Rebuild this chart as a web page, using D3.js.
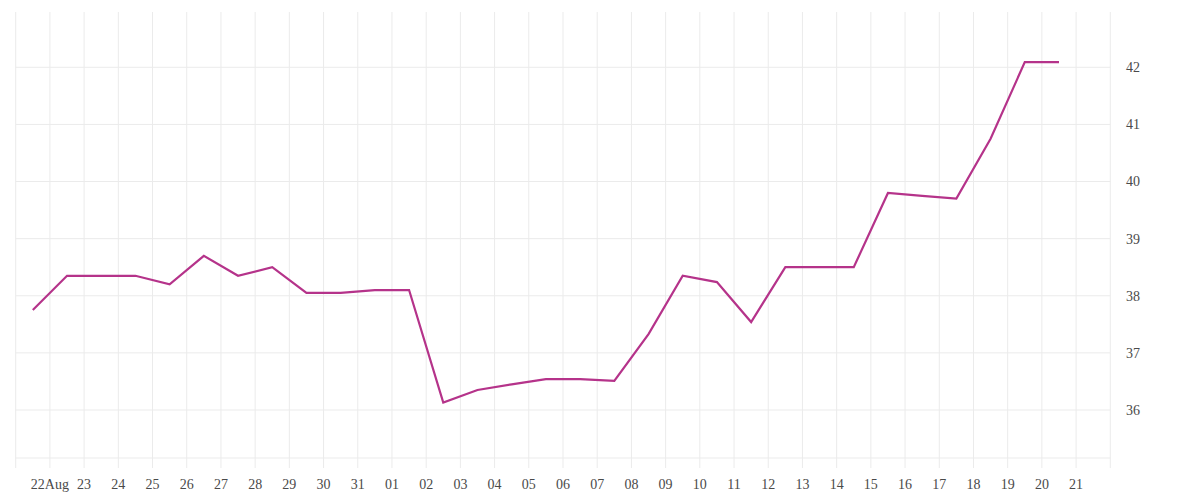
<!DOCTYPE html>
<meta charset="utf-8">
<style>
  body { margin: 0; background: #fff; }
  text { font-family: "Liberation Serif", serif; font-size: 14px; fill: #4a4a4a; }
</style>
<script src="https://d3js.org/d3.v7.min.js"></script>

<svg id="chart" width="1200" height="500"></svg>

<script>
  // Daily readings, one per day starting 21 Aug (plotted at midday)
  var startDay = "2023-08-21";
  var values = [
    37.75, 38.35, 38.35, 38.35, 38.2, 38.7, 38.35, 38.5, 38.05, 38.05,
    38.1, 38.1, 36.13, 36.35, 36.45, 36.54, 36.54, 36.51, 37.33, 38.35,
    38.24, 37.54, 38.5, 38.5, 38.5, 39.8, 39.75, 39.7, 40.75, 42.09, 42.09
  ];
  var yTicks = [36, 37, 38, 39, 40, 41, 42];

  var svg = d3.select("#chart");
  var plotLeft = 15.7, plotRight = 1110.3, plotTop = 12, plotBottom = 458;

  var t0 = d3.utcParse("%Y-%m-%d")(startDay);
  var data = values.map(function(v, i) {
    return { date: d3.utcHour.offset(d3.utcDay.offset(t0, i), 12), value: v };
  });

  // x: from start day to two days after the last reading
  var x = d3.scaleUtc()
    .domain([t0, d3.utcDay.offset(t0, values.length + 1)])
    .range([plotLeft, plotRight]);

  // y: 36..42 placed where the reference has them, plot runs a bit past both
  var y = d3.scaleLinear().domain([36, 42]).range([410, 67.3]);
  y.domain([y.invert(plotBottom), y.invert(plotTop)]).range([plotBottom, plotTop]);

  var grid = svg.append("g").attr("stroke", "#ebebeb").attr("stroke-width", 1);

  // vertical day lines (with a short tick below the plot)
  var days = d3.utcDay.range(t0, d3.utcDay.offset(x.domain()[1], 1));
  grid.selectAll("line.v")
    .data(days)
    .enter().append("line")
    .attr("x1", function(d) { return x(d); })
    .attr("x2", function(d) { return x(d); })
    .attr("y1", plotTop)
    .attr("y2", plotBottom + 10);

  // horizontal value lines + bottom border
  grid.selectAll("line.h")
    .data(yTicks.map(function(d) { return y(d); }).concat([plotBottom]))
    .enter().append("line")
    .attr("x1", plotLeft)
    .attr("x2", plotRight)
    .attr("y1", function(d) { return d; })
    .attr("y2", function(d) { return d; });

  // x labels: day numbers, month added to the first one
  var labelDays = days.slice(1, -1);
  var fmtDay = d3.utcFormat("%d"), fmtFirst = d3.utcFormat("%d%b");
  svg.append("g").selectAll("text")
    .data(labelDays)
    .enter().append("text")
    .attr("x", function(d) { return x(d); })
    .attr("y", 489)
    .attr("text-anchor", "middle")
    .text(function(d, i) { return i === 0 ? fmtFirst(d) : fmtDay(d); });

  // y labels on the right
  svg.append("g").selectAll("text")
    .data(yTicks)
    .enter().append("text")
    .attr("x", 1126)
    .attr("y", function(d) { return y(d); })
    .attr("dy", "0.35em")
    .text(function(d) { return d; });

  // the line
  var line = d3.line()
    .x(function(d) { return x(d.date); })
    .y(function(d) { return y(d.value); });

  svg.append("path")
    .datum(data)
    .attr("fill", "none")
    .attr("stroke", "#b5338a")
    .attr("stroke-width", 2.2)
    .attr("stroke-linejoin", "miter")
    .attr("d", line);
</script>
